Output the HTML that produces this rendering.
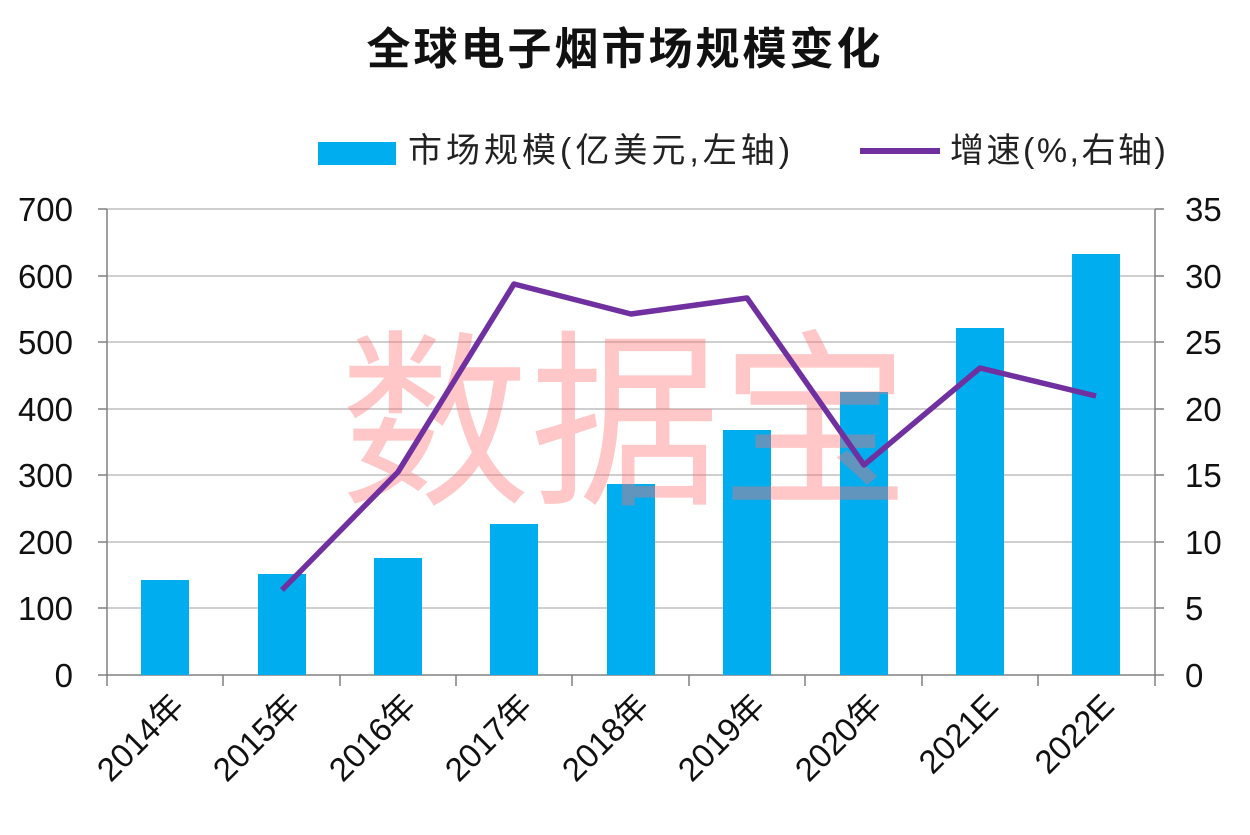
<!DOCTYPE html>
<html><head><meta charset="utf-8"><style>
body{margin:0;background:#fff;}
svg text{font-family:"Liberation Sans","Noto Sans CJK SC",sans-serif;}
</style></head><body>
<svg width="1250" height="830" viewBox="0 0 1250 830" xmlns="http://www.w3.org/2000/svg">
<rect width="1250" height="830" fill="#fff"/>
<text x="625" y="64" text-anchor="middle" font-size="44" font-weight="bold" fill="#111" letter-spacing="3" style="font-family:'Noto Sans CJK SC',sans-serif">全球电子烟市场规模变化</text>
<rect x="318" y="142" width="78" height="23" fill="#00AEEF"/>
<text x="408" y="162" font-size="34" fill="#222" letter-spacing="4">市场规模(亿美元,左轴)</text>
<line x1="860" y1="151" x2="940" y2="151" stroke="#7030A0" stroke-width="6"/>
<text x="950" y="162" font-size="34" fill="#222" letter-spacing="2.5">增速(%,右轴)</text>
<g stroke="#bfbfbf" stroke-width="1.5">
<line x1="107" y1="209" x2="1155" y2="209"/><line x1="107" y1="276" x2="1155" y2="276"/>
<line x1="107" y1="342" x2="1155" y2="342"/><line x1="107" y1="409" x2="1155" y2="409"/>
<line x1="107" y1="475" x2="1155" y2="475"/><line x1="107" y1="542" x2="1155" y2="542"/>
<line x1="107" y1="608" x2="1155" y2="608"/>
</g>
<g stroke="#808080" stroke-width="1.5">
<line x1="107" y1="209" x2="107" y2="675"/><line x1="1155" y1="209" x2="1155" y2="675"/>
<line x1="107" y1="675" x2="1155" y2="675"/>
<path d="M98 209H107M98 276H107M98 342H107M98 409H107M98 475H107M98 542H107M98 608H107M98 675H107"/>
<path d="M1155 209H1164M1155 276H1164M1155 342H1164M1155 409H1164M1155 475H1164M1155 542H1164M1155 608H1164M1155 675H1164"/>
<path d="M107 675V686M223 675V686M340 675V686M456 675V686M572 675V686M689 675V686M805 675V686M922 675V686M1038 675V686M1155 675V686"/>
</g>
<g fill="#00AEEF">
<rect x="141" y="580" width="48" height="95"/><rect x="258" y="574" width="48" height="101"/>
<rect x="374" y="558" width="48" height="117"/><rect x="490" y="524" width="48" height="151"/>
<rect x="607" y="484" width="48" height="191"/><rect x="723" y="430" width="48" height="245"/>
<rect x="840" y="392" width="48" height="283"/><rect x="956" y="328" width="48" height="347"/>
<rect x="1072" y="254" width="48" height="421"/>
</g>
<text x="625" y="490" text-anchor="middle" font-size="190" fill="#ff6b6b" fill-opacity="0.38" style="font-family:'Noto Sans CJK SC',sans-serif">数据宝</text>
<polyline points="282,590 398,472 514,284 631,314 747,298 864,465 980,368 1096,396" fill="none" stroke="#7030A0" stroke-width="5.5" stroke-linejoin="round"/>
<g font-size="33" fill="#111" text-anchor="end">
<text x="73" y="221">700</text><text x="73" y="288">600</text><text x="73" y="354">500</text>
<text x="73" y="421">400</text><text x="73" y="487">300</text><text x="73" y="554">200</text>
<text x="73" y="620">100</text><text x="73" y="687">0</text>
</g>
<g font-size="33" fill="#111" text-anchor="start">
<text x="1185" y="221">35</text><text x="1185" y="288">30</text><text x="1185" y="354">25</text>
<text x="1185" y="421">20</text><text x="1185" y="487">15</text><text x="1185" y="554">10</text>
<text x="1185" y="620">5</text><text x="1185" y="687">0</text>
</g>
<g font-size="33" fill="#111" text-anchor="end">
<text transform="translate(186,708) rotate(-45)">2014年</text>
<text transform="translate(302,708) rotate(-45)">2015年</text>
<text transform="translate(418,708) rotate(-45)">2016年</text>
<text transform="translate(534,708) rotate(-45)">2017年</text>
<text transform="translate(651,708) rotate(-45)">2018年</text>
<text transform="translate(767,708) rotate(-45)">2019年</text>
<text transform="translate(884,708) rotate(-45)">2020年</text>
<text transform="translate(1000,708) rotate(-45)">2021E</text>
<text transform="translate(1116,708) rotate(-45)">2022E</text>
</g>
</svg>
</body></html>
